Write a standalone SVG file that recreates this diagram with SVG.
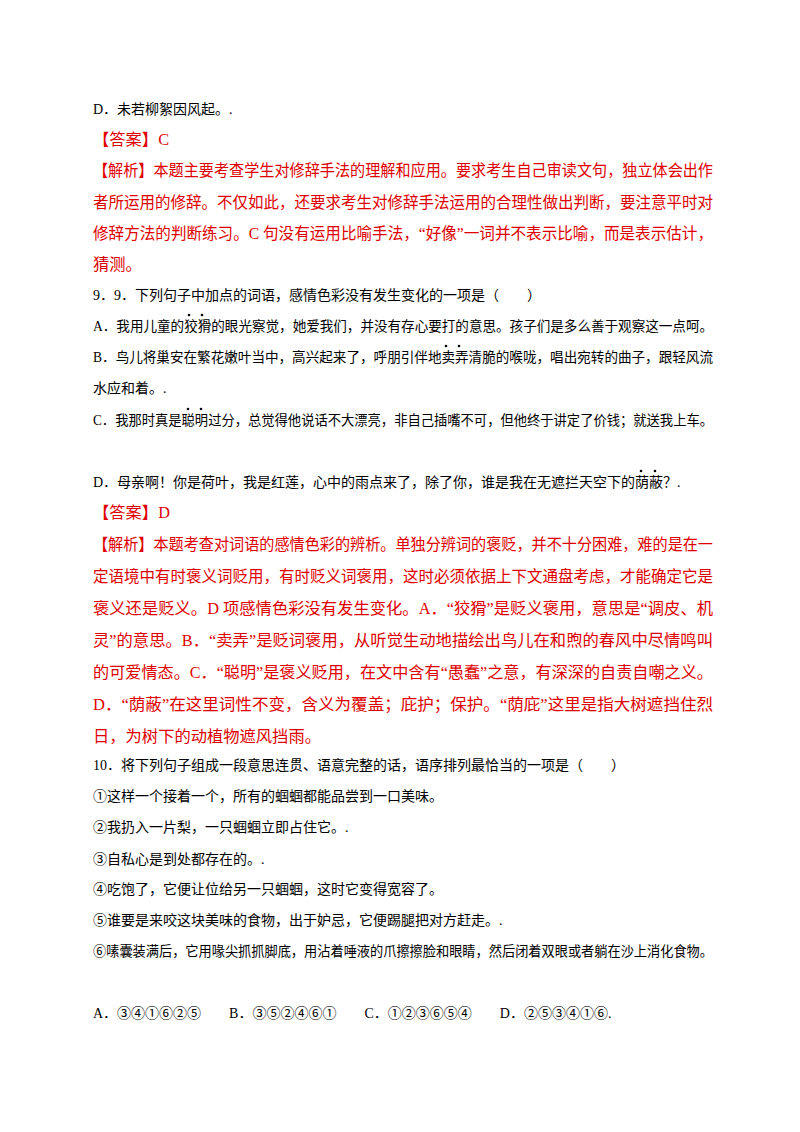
<svg xmlns="http://www.w3.org/2000/svg" width="800" height="1132" viewBox="0 0 800 1132">
<style>
text{font-family:"Liberation Serif","Noto Sans CJK SC",serif;}
.b{font-size:14px;fill:#000;}
.r{font-size:16.3px;fill:#e00000;}
</style>
<rect width="800" height="1132" fill="#fff"/>
<text class="b" x="93" y="114">D．未若柳絮因风起。.</text>
<text class="r" x="93" y="145">【答案】C</text>
<text class="r" x="93" y="176" textLength="620" lengthAdjust="spacingAndGlyphs">【解析】本题主要考查学生对修辞手法的理解和应用。要求考生自己审读文句，独立体会出作</text>
<text class="r" x="93" y="208" textLength="620" lengthAdjust="spacingAndGlyphs">者所运用的修辞。不仅如此，还要求考生对修辞手法运用的合理性做出判断，要注意平时对</text>
<text class="r" x="93" y="239" textLength="620" lengthAdjust="spacingAndGlyphs">修辞方法的判断练习。C 句没有运用比喻手法，“好像”一词并不表示比喻，而是表示估计，</text>
<text class="r" x="93" y="270">猜测。</text>
<text class="b" x="93" y="300">9．9．下列句子中加点的词语，感情色彩没有发生变化的一项是（　　）</text>
<text class="b" x="93" y="331" textLength="620" lengthAdjust="spacingAndGlyphs">A．我用儿童的狡猾的眼光察觉，她爱我们，并没有存心要打的意思。孩子们是多么善于观察这一点呵。</text>
<text class="b" x="93" y="362" textLength="620" lengthAdjust="spacingAndGlyphs">B．鸟儿将巢安在繁花嫩叶当中，高兴起来了，呼朋引伴地卖弄清脆的喉咙，唱出宛转的曲子，跟轻风流</text>
<text class="b" x="93" y="393">水应和着。.</text>
<text class="b" x="93" y="425" textLength="620" lengthAdjust="spacingAndGlyphs">C．我那时真是聪明过分，总觉得他说话不大漂亮，非自己插嘴不可，但他终于讲定了价钱；就送我上车。</text>
<text class="b" x="93" y="487">D．母亲啊！你是荷叶，我是红莲，心中的雨点来了，除了你，谁是我在无遮拦天空下的荫蔽？.</text>
<g fill="#000">
<circle cx="189" cy="315" r="1.3"/><circle cx="202" cy="315" r="1.3"/>
<circle cx="446" cy="346" r="1.3"/><circle cx="459" cy="346" r="1.3"/>
<circle cx="188" cy="409" r="1.3"/><circle cx="201" cy="409" r="1.3"/>
<circle cx="641" cy="471" r="1.3"/><circle cx="655" cy="471" r="1.3"/>
</g>
<text class="r" x="93" y="518">【答案】D</text>
<text class="r" x="93" y="550" textLength="620" lengthAdjust="spacingAndGlyphs">【解析】本题考查对词语的感情色彩的辨析。单独分辨词的褒贬，并不十分困难，难的是在一</text>
<text class="r" x="93" y="582" textLength="620" lengthAdjust="spacingAndGlyphs">定语境中有时褒义词贬用，有时贬义词褒用，这时必须依据上下文通盘考虑，才能确定它是</text>
<text class="r" x="93" y="614" textLength="620" lengthAdjust="spacingAndGlyphs">褒义还是贬义。D 项感情色彩没有发生变化。A．“狡猾”是贬义褒用，意思是“调皮、机</text>
<text class="r" x="93" y="646" textLength="620" lengthAdjust="spacingAndGlyphs">灵”的意思。B．“卖弄”是贬词褒用，从听觉生动地描绘出鸟儿在和煦的春风中尽情鸣叫</text>
<text class="r" x="93" y="678" textLength="620" lengthAdjust="spacingAndGlyphs">的可爱情态。C．“聪明”是褒义贬用，在文中含有“愚蠢”之意，有深深的自责自嘲之义。</text>
<text class="r" x="93" y="710" textLength="620" lengthAdjust="spacingAndGlyphs">D．“荫蔽”在这里词性不变，含义为覆盖；庇护；保护。“荫庇”这里是指大树遮挡住烈</text>
<text class="r" x="93" y="742">日，为树下的动植物遮风挡雨。</text>
<text class="b" x="93" y="770">10．将下列句子组成一段意思连贯、语意完整的话，语序排列最恰当的一项是（　　）</text>
<text class="b" x="93" y="801">①这样一个接着一个，所有的蝈蝈都能品尝到一口美味。</text>
<text class="b" x="93" y="832">②我扔入一片梨，一只蝈蝈立即占住它。.</text>
<text class="b" x="93" y="864">③自私心是到处都存在的。.</text>
<text class="b" x="93" y="894">④吃饱了，它便让位给另一只蝈蝈，这时它变得宽容了。</text>
<text class="b" x="93" y="925">⑤谁要是来咬这块美味的食物，出于妒忌，它便踢腿把对方赶走。.</text>
<text class="b" x="93" y="956" textLength="620" lengthAdjust="spacingAndGlyphs">⑥嗉囊装满后，它用喙尖抓抓脚底，用沾着唾液的爪擦擦脸和眼睛，然后闭着双眼或者躺在沙上消化食物。</text>
<text class="b" x="93" y="1018" xml:space="preserve">A．③④①⑥②⑤　　B．③⑤②④⑥①　　C．①②③⑥⑤④　　D．②⑤③④①⑥.</text>
</svg>
